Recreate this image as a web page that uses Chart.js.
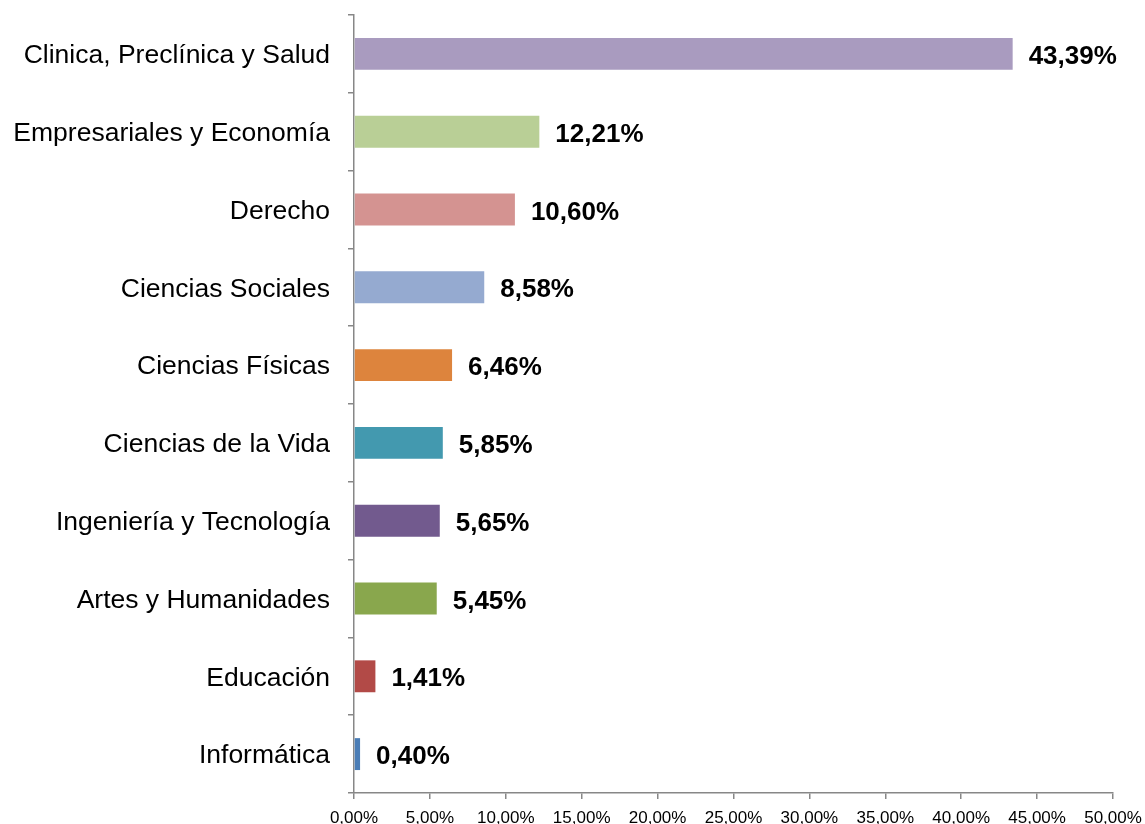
<!DOCTYPE html>
<html>
<head>
<meta charset="utf-8">
<script src="https://cdn.jsdelivr.net/npm/chart.js@4.4.1/dist/chart.umd.min.js"></script>
<style>
  html, body { margin: 0; padding: 0; background: #fff; }
  #wrap { width: 1145px; height: 824px; }
</style>
</head>
<body>
<div id="wrap"><canvas id="areasChart"></canvas></div>
<script>
const categories = [
    'Clinica, Preclínica y Salud',
    'Empresariales y Economía',
    'Derecho',
    'Ciencias Sociales',
    'Ciencias Físicas',
    'Ciencias de la Vida',
    'Ingeniería y Tecnología',
    'Artes y Humanidades',
    'Educación',
    'Informática'
];
const percentages = [43.39, 12.21, 10.60, 8.58, 6.46, 5.85, 5.65, 5.45, 1.41, 0.40];
const barColors = ['#A99BBF', '#B9CF96', '#D49391', '#95AAD0', '#DD843D', '#4399AF', '#725A8E', '#89A74D', '#B24A47', '#4A7DB6'];
const xTicks = [0, 5, 10, 15, 20, 25, 30, 35, 40, 45, 50];

const valueLabels = {
    id: 'valueLabels',
    afterDatasetsDraw(chart) {
        const ctx = chart.ctx;
        const meta = chart.getDatasetMeta(0);
        ctx.save();
        ctx.font = 'bold 26px "Liberation Sans", Arial, sans-serif';
        ctx.fillStyle = '#000';
        ctx.textAlign = 'left';
        ctx.textBaseline = 'middle';
        meta.data.forEach(function (bar, i) {
            const txt = percentages[i].toFixed(2).replace('.', ',') + '%';
            ctx.fillText(txt, bar.x + 16, bar.y + 3);
        });
        ctx.restore();
    }
};

new Chart(document.getElementById('areasChart'), {
    type: 'bar',
    data: {
        labels: categories,
        datasets: [{
            data: percentages,
            backgroundColor: barColors,
            barPercentage: 0.41,
            categoryPercentage: 1
        }]
    },
    options: {
        indexAxis: 'y',
        responsive: true,
        maintainAspectRatio: false,
        animation: false,
        layout: { padding: { top: 15, right: 32, left: 0, bottom: 0 } },
        plugins: { legend: { display: false }, tooltip: { enabled: false } },
        scales: {
            x: {
                min: 0,
                max: 50,
                afterBuildTicks(axis) {
                    axis.ticks = xTicks.map(v => ({ value: v }));
                },
                afterFit(axis) { axis.height = 31; axis.paddingLeft = 0; axis.paddingRight = 0; },
                border: { color: '#878787', width: 1.5 },
                grid: { drawOnChartArea: false, tickLength: 6, color: '#878787', lineWidth: 1.5 },
                ticks: {
                    color: '#000',
                    padding: 9,
                    maxRotation: 0,
                    font: { family: '"Liberation Sans", Arial, sans-serif', size: 17 },
                    callback: v => v.toFixed(2).replace('.', ',') + '%'
                }
            },
            y: {
                afterFit(axis) { axis.width = 354; axis.paddingTop = 0; axis.paddingBottom = 0; },
                border: { color: '#878787', width: 1.5 },
                grid: { offset: true, drawOnChartArea: false, tickLength: 6, color: '#878787', lineWidth: 1.5 },
                ticks: {
                    color: '#000',
                    padding: 18,
                    labelOffset: 2,
                    font: { family: '"Liberation Sans", Arial, sans-serif', size: 26.5 }
                }
            }
        }
    },
    plugins: [valueLabels]
});
</script>
</body>
</html>
